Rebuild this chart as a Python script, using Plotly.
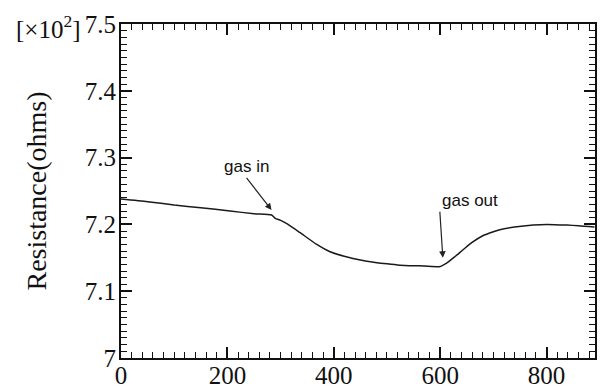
import plotly.graph_objects as go

# Resistance trace (time axis in s, resistance in units of 10^2 ohms)
time_s = [0, 50, 100, 150, 205, 250, 283, 290, 300, 314, 336, 368, 393, 436,
          462, 500, 524, 560, 600, 612, 628, 643, 660, 680, 700, 712, 740,
          775, 800, 838, 860, 890]
resistance = [7.238, 7.234, 7.229, 7.225, 7.220, 7.216, 7.214, 7.209, 7.206,
              7.200, 7.188, 7.170, 7.159, 7.149, 7.145, 7.141, 7.139, 7.138,
              7.137, 7.142, 7.152, 7.162, 7.173, 7.183, 7.189, 7.192, 7.196,
              7.199, 7.200, 7.199, 7.198, 7.196]

x_range = [0, 891]
y_range = [7.0, 7.5]
x_major_step = 200
x_minor_step = 20
y_major_step = 0.1
y_minor_step = 0.01

serif = "Liberation Serif, Times New Roman, serif"
sans = "Liberation Sans, Arial, sans-serif"
ink = "#111111"

fig = go.Figure()
fig.add_trace(go.Scatter(x=time_s, y=resistance, mode="lines",
                         line=dict(color="#1a1a1a", width=1.5, shape="spline",
                                   smoothing=0.6),
                         showlegend=False, hoverinfo="skip"))


def axis_style(step, minor_step, start, show_labels=True, label_gap=0):
    return dict(showline=True, linecolor=ink, linewidth=2, mirror=False,
                ticks="inside", ticklen=11, tickwidth=1.5, tickcolor=ink,
                tickmode="linear", tick0=start, dtick=step,
                showticklabels=show_labels, automargin=False,
                ticklabelstandoff=label_gap,
                showgrid=False, zeroline=False, layer="above traces",
                minor=dict(ticks="inside", tickmode="linear", tick0=start,
                           dtick=minor_step, ticklen=6, tickwidth=1.2,
                           tickcolor=ink, showgrid=False),
                tickfont=dict(family=serif, size=25, color=ink))


fig.update_layout(
    template="none",
    width=600, height=390,
    margin=dict(l=121, r=5, t=24, b=32),
    paper_bgcolor="white", plot_bgcolor="white",
    xaxis=dict(range=x_range,
               **axis_style(x_major_step, x_minor_step, 0, label_gap=-6)),
    yaxis=dict(range=y_range,
               title=dict(text="Resistance(ohms)", standoff=30,
                          font=dict(family=serif, size=28, color=ink)),
               **axis_style(y_major_step, y_minor_step, 7.0, label_gap=-2)),
    # frame axes along the top and right edges, ticks pointing inwards
    xaxis2=dict(range=x_range, overlaying="x", side="top", anchor="y",
                **axis_style(x_major_step, x_minor_step, 0, show_labels=False)),
    yaxis2=dict(range=y_range, overlaying="y", side="right", anchor="x",
                **axis_style(y_major_step, y_minor_step, 7.0, show_labels=False)),
)
fig.add_trace(go.Scatter(x=[None], y=[None], xaxis="x2", yaxis="y2",
                         showlegend=False, hoverinfo="skip"))

# Event markers with their arrows
fig.add_annotation(x=283, y=7.2216, xref="x", yref="y", text="gas in",
                   showarrow=True, ax=-25, ay=-32, xanchor="center", yanchor="bottom",
                   arrowhead=2, arrowsize=1.1, arrowwidth=1.2, arrowcolor="#222",
                   font=dict(family=sans, size=17, color=ink))
fig.add_annotation(x=605, y=7.150, xref="x", yref="y", text="gas out",
                   showarrow=True, ax=-3, ay=-46, xanchor="left", yanchor="bottom",
                   arrowhead=2, arrowsize=1.1, arrowwidth=1.2, arrowcolor="#222",
                   font=dict(family=sans, size=17, color=ink))

# Axis multiplier
fig.add_annotation(x=-0.08, y=0.99, xref="paper", yref="paper",
                   xanchor="right", yanchor="middle", showarrow=False,
                   text="[×10<sup>2</sup>]",
                   font=dict(family=serif, size=25, color=ink))

fig.write_html("out.html")
